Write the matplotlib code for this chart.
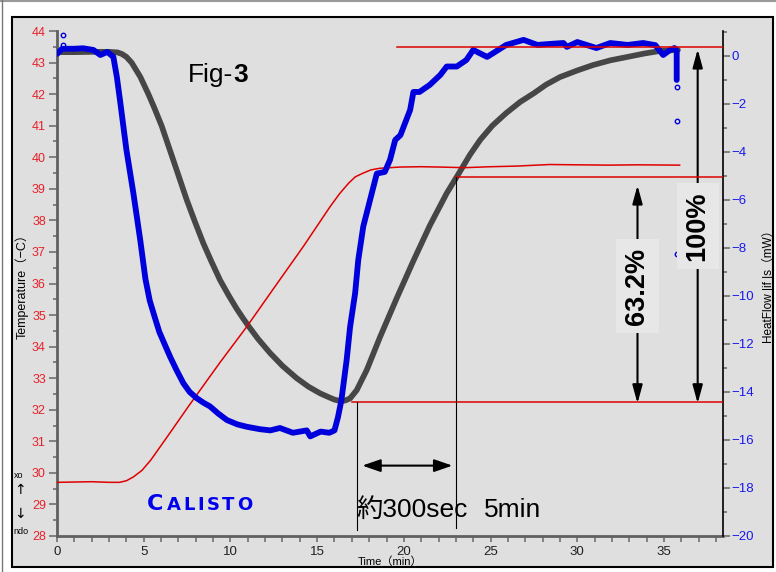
import numpy as np
import matplotlib
matplotlib.use('Agg')
import matplotlib.pyplot as plt
from matplotlib.patches import Rectangle
from matplotlib.ticker import MultipleLocator

plt.rcParams['font.family'] = ['Liberation Sans', 'DejaVu Sans']

# sample temperature (gray, left axis)
gray_t = [0, 1, 2, 3, 3.5, 3.75, 4.0, 4.3, 4.8, 5.27, 5.6, 6.03, 6.65, 7.05, 7.48,
          7.95, 8.44, 8.9, 9.4, 9.9, 10.36, 10.7, 11.03, 11.6, 12.28, 13.0, 13.82,
          14.5, 15.17, 15.7, 16.0, 16.32, 16.6, 16.9, 17.28, 17.86, 18.63, 19.6,
          20.55, 21.5, 22.47, 23.05, 23.8, 24.4, 25.1, 25.9, 26.7, 27.5, 28.2, 29.0,
          30.0, 30.9, 31.9, 32.9, 33.9, 34.8, 35.8]
gray_temp = [43.33, 43.33, 43.34, 43.34, 43.32, 43.27, 43.18, 43.0, 42.55, 42.0,
             41.58, 41.0, 40.0, 39.35, 38.65, 37.96, 37.27, 36.7, 36.11, 35.62, 35.2,
             34.92, 34.66, 34.24, 33.8, 33.39, 33.0, 32.73, 32.52, 32.39, 32.32,
             32.28, 32.29, 32.36, 32.62, 33.26, 34.31, 35.55, 36.72, 37.84, 38.86,
             39.38, 40.07, 40.55, 41.0, 41.4, 41.75, 42.03, 42.3, 42.54, 42.75, 42.92,
             43.07, 43.18, 43.29, 43.37, 43.4]

# furnace temperature (red, left axis)
red_t = [0, 1.0, 2.0, 3.0, 3.6, 4.0, 4.4, 4.9, 5.4, 5.85, 6.3, 7.0, 7.57, 9.4, 10.94,
         12.5, 14.2, 15.74, 16.3, 16.8, 17.2, 17.66, 18.1, 18.6, 19.8, 21.0, 22.0,
         23.5, 25.0, 26.5, 28.4, 30.0, 31.8, 33.5, 35.9]
red_temp = [29.7, 29.71, 29.72, 29.7, 29.7, 29.75, 29.87, 30.08, 30.4, 30.75, 31.1,
            31.65, 32.1, 33.5, 34.63, 35.85, 37.17, 38.43, 38.85, 39.17, 39.38, 39.5,
            39.6, 39.65, 39.69, 39.7, 39.69, 39.67, 39.7, 39.72, 39.77, 39.76, 39.75,
            39.76, 39.75]

# heat flow (blue, right axis)
blue_t = [0, 0.3, 0.6, 1.0, 1.5, 2.1, 2.5, 2.9, 3.25, 3.45, 3.63, 4.0, 4.4, 4.8, 5.1,
          5.35, 5.6, 5.9, 6.2, 6.52, 6.9, 7.29, 7.65, 8.06, 8.45, 8.82, 9.3, 9.8,
          10.4, 10.95, 11.7, 12.3, 12.85, 13.6, 14.4, 14.6, 15.2, 15.7, 16.0, 16.2,
          16.4, 16.7, 16.9, 17.19, 17.37, 17.66, 18.05, 18.44, 18.9, 19.2, 19.5, 19.8,
          20.36, 20.55, 20.9, 21.5, 22.1, 22.47, 23.05, 23.6, 24.0, 24.8, 25.9, 26.9,
          27.7, 28.4, 29.2, 29.4, 30.0, 31.1, 31.9, 32.9, 33.8, 34.5, 34.95, 35.35,
          35.6, 35.73, 35.73]
blue_hf = [0.1, 0.3, 0.3, 0.3, 0.32, 0.25, 0.04, 0.17, -0.04, -0.87, -1.83, -3.9, -5.7,
           -7.67, -9.3, -10.2, -10.8, -11.5, -12.0, -12.53, -13.1, -13.64, -14.0,
           -14.26, -14.45, -14.6, -14.9, -15.17, -15.35, -15.45, -15.55, -15.6, -15.5,
           -15.7, -15.6, -15.85, -15.65, -15.7, -15.6, -15.05, -14.33, -12.67, -11.28,
           -9.88, -8.5, -7.1, -6.0, -4.9, -4.83, -4.33, -3.5, -3.3, -2.25, -1.5, -1.5,
           -1.2, -0.79, -0.44, -0.44, -0.17, 0.25, -0.04, 0.46, 0.67, 0.46, 0.5, 0.54,
           0.38, 0.58, 0.33, 0.54, 0.46, 0.54, 0.45, 0.04, 0.25, 0.33, 0.2, -1.0]
blue_out_t = [0, 0.36, 0.36, 35.73, 35.73, 35.73]
blue_out_hf = [0.12, 0.875, 0.46, -1.3, -2.7, -8.25]

# step response marks
t_start = 17.3
t_63 = 23.0
T_low = 32.25
T_high = 43.5
T_63 = T_low + 0.632 * (T_high - T_low)

W, H = 776, 572
fig = plt.figure(figsize=(W / 100, H / 100), dpi=100)
fig.patch.set_facecolor('white')
fig.patches.append(Rectangle((12 / W, 1 - 567 / H), (773 - 12) / W, (567 - 17) / H,
                             transform=fig.transFigure, facecolor='#dfdfdf',
                             edgecolor='black', lw=1.5, zorder=-5))
fig.add_artist(plt.Line2D([0, 1], [1 - 1 / H, 1 - 1 / H], color='#999999', lw=1.5,
                          transform=fig.transFigure, zorder=-5))
fig.add_artist(plt.Line2D([2 / W, 2 / W], [0, 1], color='#777777', lw=1,
                          transform=fig.transFigure, zorder=-5))

ax = fig.add_axes([57 / W, 1 - 536 / H, (723 - 57) / W, (536 - 31) / H])
ax.set_facecolor('none')
ax2 = ax.twinx()

ax.plot(gray_t, gray_temp, color='#464646', lw=4.1, solid_capstyle='round',
        solid_joinstyle='round', zorder=2)
ax.plot(red_t, red_temp, color='#e00000', lw=1.1, zorder=3)

ax.set_xlim(0, 38.4)
ax.set_ylim(28, 44)
ax2.set_ylim(-20, 1.04)

ax2.plot(blue_t, blue_hf, color='#0000dd', lw=4.2, solid_capstyle='round',
         solid_joinstyle='round', zorder=3)
ax2.plot(blue_out_t, blue_out_hf, 'o', color='#0000dd', mfc='none', ms=3.2, mew=1,
         zorder=3)

# spines
for s in ['top', 'right']:
    ax.spines[s].set_visible(False)
for s in ['left', 'bottom']:
    ax.spines[s].set_color('#606060')
    ax.spines[s].set_linewidth(2)
for s in ['top', 'left', 'bottom']:
    ax2.spines[s].set_visible(False)
ax2.spines['right'].set_color('black')
ax2.spines['right'].set_linewidth(1.2)

# ticks
ax.yaxis.set_major_locator(MultipleLocator(1))
ax.yaxis.set_minor_locator(MultipleLocator(0.5))
ax.xaxis.set_major_locator(MultipleLocator(5))
ax.xaxis.set_minor_locator(MultipleLocator(1))
ax.tick_params(axis='y', which='major', length=6, width=1.2, color='#707070',
               labelcolor='#e8202a', labelsize=9, pad=2)
ax.tick_params(axis='y', which='minor', length=3, width=1.2, color='#707070')
ax.tick_params(axis='x', which='both', length=4, width=1.2, color='#707070',
               labelcolor='#202020', labelsize=9.5, pad=3)
ax2.yaxis.set_major_locator(MultipleLocator(2))
ax2.yaxis.set_minor_locator(MultipleLocator(1))
ax2.tick_params(axis='y', which='major', length=5, width=1.2, color='#707070',
                labelcolor='#1a1aee', labelsize=9.5, pad=1)
ax2.tick_params(axis='y', which='minor', length=3, width=1.2, color='#707070')

lab_fam = ['Liberation Sans', 'Noto Sans CJK JP']
ax.set_ylabel('Temperature（−C）', fontsize=9, family=lab_fam)
ax.yaxis.set_label_coords(-0.042, 0.5)
ax2.set_ylabel('HeatFlow |if |s（mW）', fontsize=8.5, rotation=90, family=lab_fam)
ax2.yaxis.set_label_coords(1.0586, 0.5)
ax.set_xlabel('Time（min）', fontsize=8, family=lab_fam)
ax.xaxis.set_label_coords(0.5, -0.04)

# annotation lines (drawn over the curves)
tr = ax.transData
ax2.plot([19.6, 38.4], [T_high, T_high], color='#e00000', lw=1.1, transform=tr, zorder=4)
ax2.plot([t_63, 38.4], [T_63, T_63], color='#e00000', lw=1.1, transform=tr, zorder=4)
ax2.plot([17.0, 38.4], [T_low, T_low], color='#e00000', lw=1.1, transform=tr, zorder=4)
ax2.plot([t_start, t_start], [28.2, T_low], color='black', lw=0.8, transform=tr, zorder=4)
ax2.plot([t_63, t_63], [28.25, T_63], color='black', lw=0.8, transform=tr, zorder=4)

ax2.annotate('', xy=(t_start + 0.3, 30.23), xytext=(t_63 - 0.2, 30.23),
             xycoords=tr, textcoords=tr,
             arrowprops=dict(arrowstyle='<|-|>,head_length=1.1,head_width=0.38',
                             mutation_scale=10, color='black', lw=1.5,
                             shrinkA=0, shrinkB=0))
ax2.annotate('', xy=(36.94, T_high - 0.08), xytext=(36.94, T_low - 0.05),
             xycoords=tr, textcoords=tr,
             arrowprops=dict(arrowstyle='<|-|>,head_length=1.1,head_width=0.3',
                             mutation_scale=10, color='black', lw=1.5,
                             shrinkA=0, shrinkB=0))
ax2.annotate('', xy=(33.47, T_63 - 0.25), xytext=(33.47, T_low - 0.05),
             xycoords=tr, textcoords=tr,
             arrowprops=dict(arrowstyle='<|-|>,head_length=1.1,head_width=0.3',
                             mutation_scale=10, color='black', lw=1.5,
                             shrinkA=0, shrinkB=0))
box = dict(boxstyle='square,pad=0.3', fc='#e7e7e7', ec='none')
ax2.text(36.94, 37.82, '100%', transform=tr, rotation=90, ha='center', va='center',
         fontsize=19.5, fontweight='bold', bbox=box, zorder=5)
ax2.text(33.47, 35.92, '63.2%', transform=tr, rotation=90, ha='center', va='center',
         fontsize=19.5, fontweight='bold', bbox=box, zorder=5)

# texts
fig.text(188 / W, 1 - 82 / H, 'Fig-', fontsize=19, va='baseline', ha='left')
fig.text(233.5 / W, 1 - 82 / H, '3', fontsize=19, fontweight='bold', va='baseline',
         ha='left')
fig.text(356 / W, 1 - 517 / H, '約300sec', fontsize=19, va='baseline', ha='left',
         family=lab_fam)
fig.text(484 / W, 1 - 517 / H, '5min', fontsize=19, va='baseline', ha='left',
         family=lab_fam)

cal_letters = ['C', 'A', 'L', 'I', 'S', 'T', 'O']
cal_x = [155, 174, 189, 201, 213, 228, 245]
for ch, xc in zip(cal_letters, cal_x):
    fig.text(xc / W, 1 - 510 / H, ch, fontsize=16 if ch == 'C' else 13,
             fontweight='bold', color='#0000ee', family='DejaVu Sans',
             ha='center', va='baseline')

fig.text(14 / W, 1 - 475 / H, 'xo', fontsize=6.5, va='center', ha='left')
fig.text(20 / W, 1 - 490 / H, '↑', fontsize=10, va='center', ha='center',
         family='DejaVu Sans')
fig.text(20 / W, 1 - 514 / H, '↓', fontsize=10, va='center', ha='center',
         family='DejaVu Sans')
fig.text(13 / W, 1 - 532 / H, 'ndo', fontsize=6.5, va='center', ha='left')

fig.savefig('out.png', dpi=100)
